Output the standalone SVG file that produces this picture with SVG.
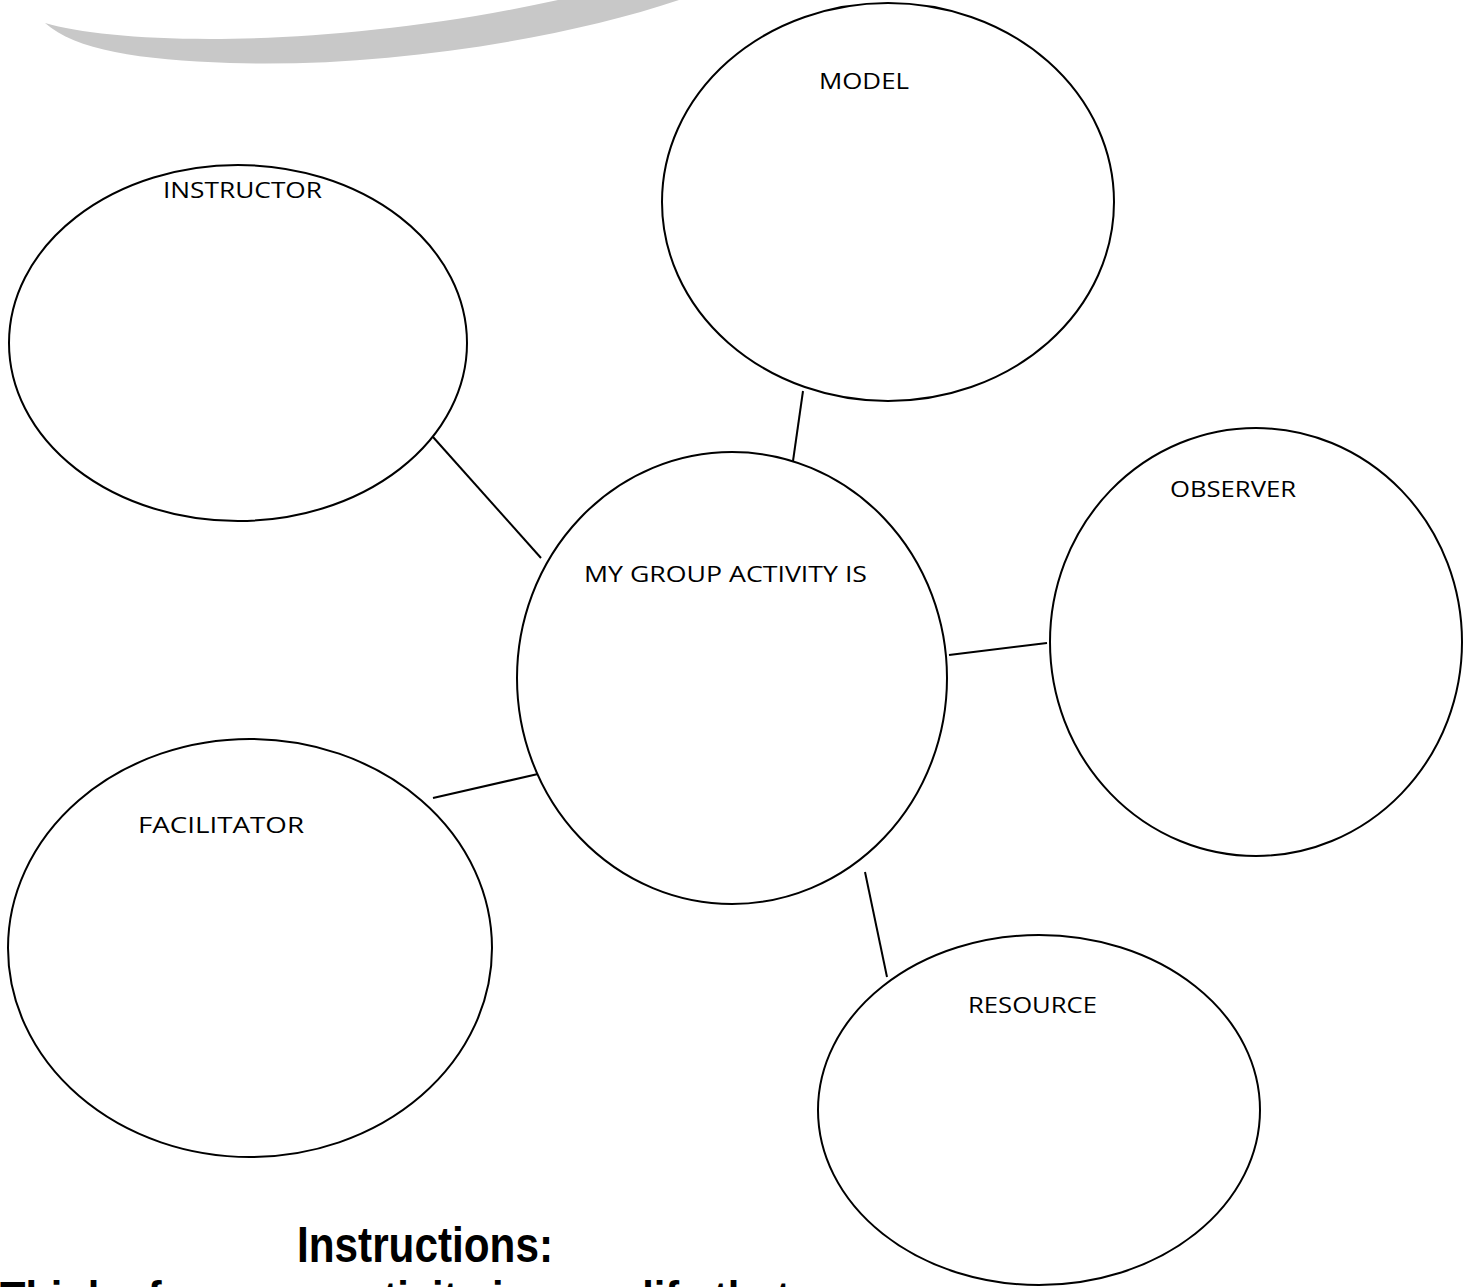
<svg xmlns="http://www.w3.org/2000/svg" width="1474" height="1287" viewBox="0 0 1474 1287">
<style>
.node ellipse{fill:#fff;stroke:#000;stroke-width:2}
.lbl{font-family:"Open Sans","Liberation Sans",sans-serif;font-size:22px;fill:#000}
.conn line{stroke:#000;stroke-width:2}
.big{font-family:"Liberation Sans",Arial,sans-serif;font-weight:bold;fill:#000}
</style>
<rect width="1474" height="1287" fill="#fff"/>
<path d="M45,23 C120,45 330,50 558,0 L679,0 C560,40 380,68 230,63 C140,60 75,50 45,23 Z" fill="#c8c8c8"/>
<g class="conn">
<line x1="433" y1="437" x2="541" y2="558"/>
<line x1="803" y1="391" x2="793" y2="461"/>
<line x1="949" y1="655" x2="1047" y2="643"/>
<line x1="433" y1="798" x2="538" y2="774"/>
<line x1="865" y1="872" x2="887" y2="977"/>
</g>
<g id="instructor" class="node"><ellipse cx="238" cy="343" rx="229" ry="178"/><text class="lbl" x="163" y="198" textLength="159" lengthAdjust="spacingAndGlyphs">INSTRUCTOR</text></g>
<g id="model" class="node"><ellipse cx="888" cy="202" rx="226" ry="199"/><text class="lbl" x="819" y="89" textLength="90" lengthAdjust="spacingAndGlyphs">MODEL</text></g>
<g id="center" class="node"><ellipse cx="732" cy="678" rx="215" ry="226"/><text class="lbl" x="584" y="582" textLength="283" lengthAdjust="spacingAndGlyphs">MY GROUP ACTIVITY IS</text></g>
<g id="observer" class="node"><ellipse cx="1256" cy="642" rx="206" ry="214"/><text class="lbl" x="1170" y="497" textLength="126" lengthAdjust="spacingAndGlyphs">OBSERVER</text></g>
<g id="facilitator" class="node"><ellipse cx="250" cy="948" rx="242" ry="209"/><text class="lbl" x="138" y="833" textLength="166" lengthAdjust="spacingAndGlyphs">FACILITATOR</text></g>
<g id="resource" class="node"><ellipse cx="1039" cy="1110" rx="221" ry="175"/><text class="lbl" x="968" y="1013" textLength="129" lengthAdjust="spacingAndGlyphs">RESOURCE</text></g>
<text class="big" x="297" y="1262" font-size="50" textLength="256" lengthAdjust="spacingAndGlyphs">Instructions:</text>
<text class="big" x="0" y="1314" font-size="46" textLength="790" lengthAdjust="spacingAndGlyphs">Think of a group activity in your life that</text>
</svg>
